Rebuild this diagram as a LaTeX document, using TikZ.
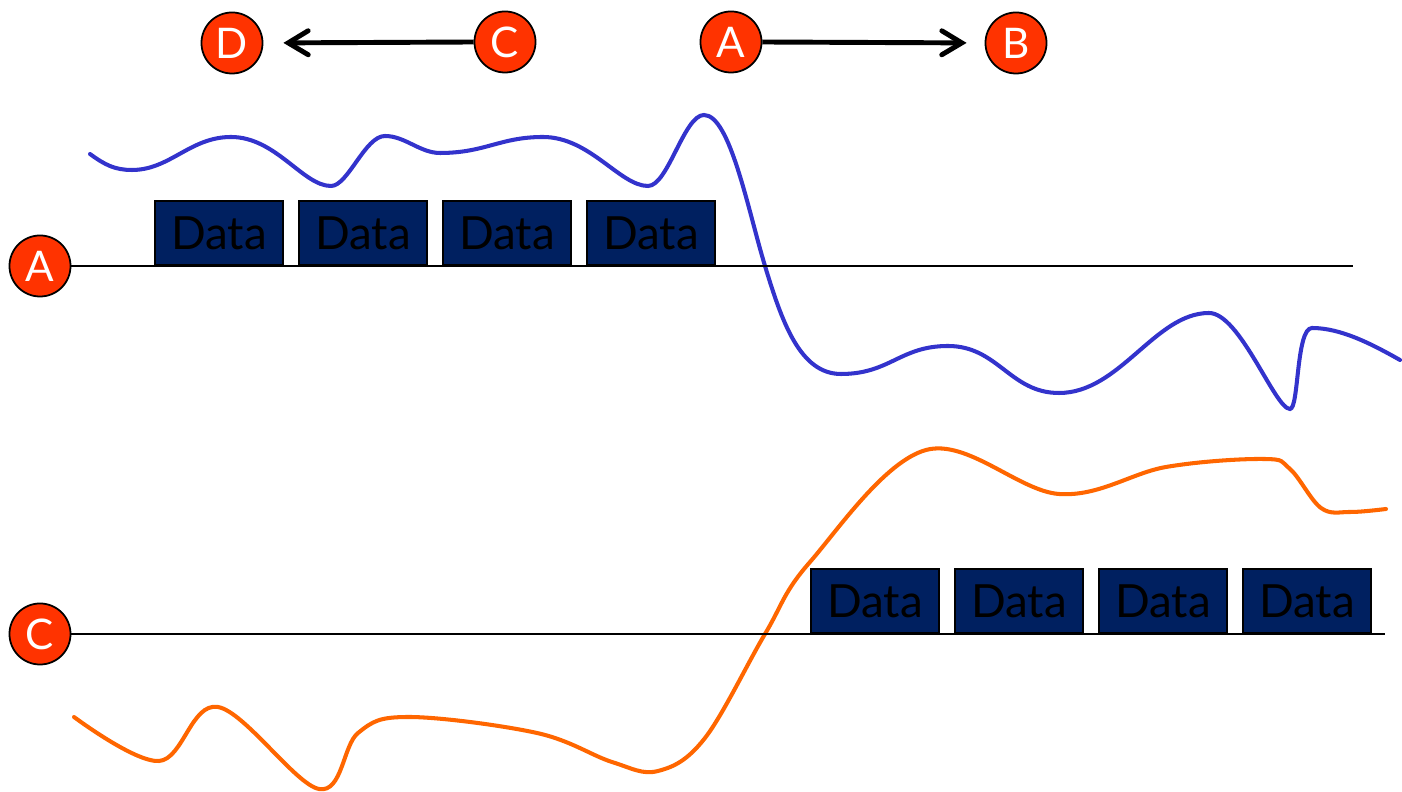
\documentclass[tikz,border=0pt]{standalone}
\usepackage{fontspec}
\setmainfont{Lato}
\usetikzlibrary{arrows.meta}
\definecolor{navy}{HTML}{002060}
\definecolor{signalred}{HTML}{FF3300}
\definecolor{waveblue}{HTML}{3333CC}
\definecolor{waveorange}{HTML}{FF6600}

\begin{document}
\begin{tikzpicture}[x=0.01cm,y=-0.01cm,
    port/.style={circle,draw=black,line width=0.5pt,fill=signalred,minimum size=0.61cm,inner sep=0pt,
      text=white,font=\fontsize{12}{12}\selectfont},
    databox/.style={draw=black,line width=0.6pt,fill=navy,minimum width=1.28cm,minimum height=0.64cm,
      inner sep=0pt,anchor=south west,font=\fontsize{13}{13}\selectfont},
    wire/.style={line width=0.6pt},
    flow/.style={line width=1.4pt,-{Straight Barb[length=0.2cm,width=0.24cm,line cap=round]}},
    wave/.style={line width=1.15pt,line cap=round}]
  \useasboundingbox (0,0) rectangle (1402,792);
  % signals
  \draw[wave,waveblue] (90,154) .. controls (105,165) and (115,170) .. (132,170)
    .. controls (170,170) and (190,137) .. (231,137) .. controls (276,137) and (303,186) .. (331,186)
    .. controls (348,186) and (365,136) .. (385,136) .. controls (405,136) and (420,153) .. (440,153)
    .. controls (485,153) and (500,137) .. (543,137) .. controls (590,137) and (620,186) .. (648,186)
    .. controls (668,186) and (684,115) .. (704,115) .. controls (730,115) and (748,210) .. (765,266)
    .. controls (782,322) and (800,374) .. (841,374)
    .. controls (890,374) and (900,346) .. (948,346) .. controls (998,346) and (1010,393) .. (1059,393)
    .. controls (1120,393) and (1155,313) .. (1209,313) .. controls (1240,313) and (1275,409) .. (1290,409)
    .. controls (1299,409) and (1296,328) .. (1312,328) .. controls (1340,328) and (1370,343) .. (1400,360);
  \draw[wave,waveorange] plot[smooth,tension=0.6] coordinates {(74,717) (159,761) (218,707) (319,789)
    (358,733) (409,717) (537,733) (612,762) (658,771) (705,738) (765,634) (810,562) (926,450) (1059,494)
    (1166,467) (1264,459) (1290,469) (1321,508) (1350,512) (1386,509)};
  % top ports
  \node[port] (D) at (232,43) {D};
  \node[port] (C) at (505,42) {C};
  \node[port] (A) at (731,42) {A};
  \node[port] (B) at (1016,43) {B};
  \draw[flow,shorten >=0.2cm] (C.west) -- (D.east);
  \draw[flow,shorten >=0.18cm] (A.east) -- (B.west);
  % lines
  \node[port] (lA) at (40,266) {A};
  \node[port] (lC) at (40,634) {C};
  \coordinate (endA) at (1353,266);
  \coordinate (endC) at (1385,634);
  \draw[wire] (lA.east) -- (endA);
  \draw[wire] (lC.east) -- (endC);
  \foreach \i/\x in {1/154,2/298,3/442,4/586}
    \node[databox] (d\i) at (\x,266) {Data};
  \foreach \i/\x in {1/810,2/954,3/1098,4/1242}
    \node[databox] (e\i) at (\x,634) {Data};
\end{tikzpicture}
\end{document}
